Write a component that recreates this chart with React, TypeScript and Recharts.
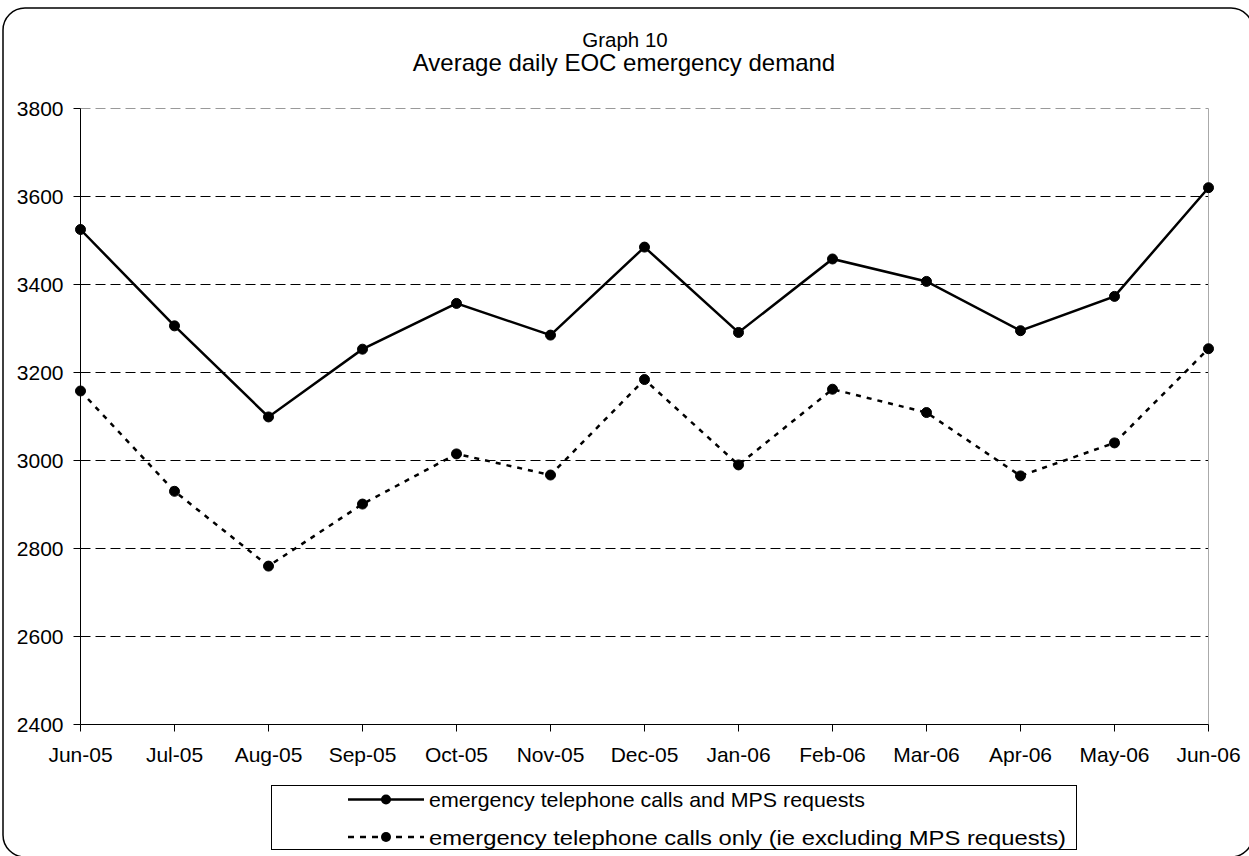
import React from "react";
import { LineChart, Line, XAxis, YAxis, CartesianGrid, ReferenceLine, Legend } from "recharts";

const months = ["Jun-05","Jul-05","Aug-05","Sep-05","Oct-05","Nov-05","Dec-05","Jan-06","Feb-06","Mar-06","Apr-06","May-06","Jun-06"];
const withMps = [3525, 3306, 3099, 3253, 3357, 3285, 3485, 3291, 3458, 3407, 3295, 3373, 3620];
const callsOnly = [3158, 2930, 2760, 2901, 3015, 2967, 3184, 2990, 3162, 3109, 2965, 3040, 3254];
const yTicks = [2400, 2600, 2800, 3000, 3200, 3400, 3600, 3800];
const gridValues = [2600, 2800, 3000, 3200, 3400, 3600];
const titleLines = ["Graph 10", "Average daily EOC emergency demand"];
const seriesNames = ["emergency telephone calls and MPS requests", "emergency telephone calls only (ie excluding MPS requests)"];

const data = months.map((m, i) => ({ month: m, a: withMps[i], b: callsOnly[i] }));

const FONT = '"Liberation Sans", Arial, Helvetica, sans-serif';

function LegendContent() {
  const rows = [
    { dashed: false, label: seriesNames[0], cy: 13.5, len: 436 },
    { dashed: true, label: seriesNames[1], cy: 51, len: 637 },
  ];
  return (
    <div style={{ position: "relative", width: 806, height: 65, border: "1px solid #000", boxSizing: "border-box", background: "#fff" }}>
      <svg width={804} height={63} style={{ position: "absolute", left: 0, top: 0 }}>
        {rows.map((r, i) => (
          <g key={i}>
            <line x1={76} y1={r.cy} x2={152} y2={r.cy} stroke="#000" strokeWidth={2.5} strokeDasharray={r.dashed ? "6 6" : undefined} />
            <circle cx={114} cy={r.cy} r={5} fill="#000" />
            <text x={157} y={r.cy + 7.5} fontSize={21} fontFamily={FONT} fill="#000" textLength={r.len} lengthAdjust="spacingAndGlyphs">{r.label}</text>
          </g>
        ))}
      </svg>
    </div>
  );
}

export default function App() {
  return (
    <div style={{ position: "absolute", left: 0, top: 0, width: 1249, height: 856, background: "#fff", overflow: "hidden" }}>
      <svg width={1249} height={856} style={{ position: "absolute", left: 0, top: 0 }}>
        <rect x={3} y={8} width={1250} height={849} rx={22} ry={22} fill="#fff" stroke="#000" strokeWidth={1.5} />
        <text x={625} y={47} textAnchor="middle" fontSize={20.5} fontFamily={FONT} fill="#000">{titleLines[0]}</text>
        <text x={624} y={71} textAnchor="middle" fontSize={24} fontFamily={FONT} fill="#000">{titleLines[1]}</text>
      </svg>
      <div style={{ position: "absolute", left: 0, top: 0 }}>
        <LineChart width={1249} height={856} data={data} margin={{ top: 108.5, right: 40.5, bottom: 91.5, left: 20.5 }}>
          <CartesianGrid horizontal={true} vertical={false} horizontalValues={gridValues} stroke="#000" strokeDasharray="10 5" strokeWidth={1} />
          <ReferenceLine y={3800} stroke="#999" strokeDasharray="10 5" strokeWidth={1} ifOverflow="visible" />
          <ReferenceLine x="Jun-06" stroke="#aaa" strokeWidth={1} ifOverflow="visible" />
          <XAxis dataKey="month" height={40} axisLine={{ stroke: "#000" }} tickLine={{ stroke: "#000" }} tickSize={7} tickMargin={16} interval={0}
            tick={{ fill: "#000", fontSize: 21, fontFamily: FONT }} />
          <YAxis width={60} domain={[2400, 3800]} ticks={yTicks} axisLine={{ stroke: "#000" }} tickLine={{ stroke: "#000" }} tickSize={7} tickMargin={10}
            tick={{ fill: "#000", fontSize: 21, fontFamily: FONT }} allowDataOverflow />
          <Legend verticalAlign="middle" layout="horizontal" align="center" content={LegendContent}
            wrapperStyle={{ left: 271, top: 785, width: 806, height: 65 }} />
          <Line type="linear" dataKey="a" name={seriesNames[0]} stroke="#000" strokeWidth={2.5} isAnimationActive={false}
            dot={{ r: 5, fill: "#000", stroke: "#000", strokeWidth: 1 }} activeDot={false} />
          <Line type="linear" dataKey="b" name={seriesNames[1]} stroke="#000" strokeWidth={2.5} strokeDasharray="5 6" isAnimationActive={false}
            dot={{ r: 5, fill: "#000", stroke: "#000", strokeWidth: 1, strokeDasharray: "" }} activeDot={false} />
        </LineChart>
      </div>
    </div>
  );
}
